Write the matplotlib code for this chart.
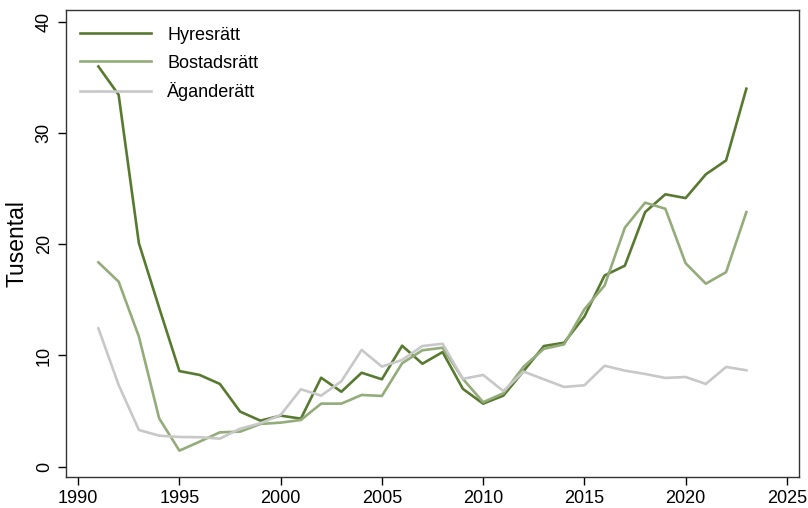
import numpy as np
import matplotlib.pyplot as plt

plt.rcParams['font.family'] = ['Liberation Sans', 'DejaVu Sans']

# år
ar = np.arange(1991, 2024)

# Tusental
hyresratt = [36.0, 33.45, 20.1, 14.3, 8.6, 8.25, 7.44, 4.95, 4.14, 4.59, 4.32,
             8.0, 6.74, 8.45, 7.86, 10.88, 9.26, 10.31, 7.0, 5.67, 6.39, 8.6,
             10.85, 11.15, 13.5, 17.2, 18.08, 22.9, 24.5, 24.16, 26.3, 27.55, 34.0]
bostadsratt = [18.38, 16.64, 11.7, 4.35, 1.44, 2.25, 3.09, 3.15, 3.84, 3.96, 4.2,
               5.67, 5.67, 6.45, 6.36, 9.3, 10.47, 10.7, 7.9, 5.8, 6.6, 9.0,
               10.6, 11.0, 14.15, 16.3, 21.5, 23.75, 23.2, 18.3, 16.46, 17.5, 22.9]
aganderatt = [12.44, 7.35, 3.3, 2.79, 2.67, 2.65, 2.52, 3.42, 3.9, 4.65, 6.96,
              6.39, 7.68, 10.5, 9.0, 9.6, 10.85, 11.06, 7.9, 8.25, 6.8, 8.55,
              7.86, 7.17, 7.32, 9.08, 8.64, 8.34, 7.98, 8.07, 7.44, 8.97, 8.67]

serier = ['Hyresrätt', 'Bostadsrätt', 'Äganderätt']
farger = ['#587a30', '#93ac7a', '#c8c8c8']

fig = plt.figure(figsize=(8.08, 5.08), dpi=100)
ax = fig.add_axes([66 / 808, 31 / 508, 733 / 808, 467 / 508])

for namn, data, farg in zip(serier, [hyresratt, bostadsratt, aganderatt], farger):
    ax.plot(ar, data, color=farg, lw=1.9, label=namn)

ax.set_xlim(1989.4, 2025.6)
ax.set_ylim(-0.93, 41.08)
ax.set_xticks(range(1990, 2026, 5))
ax.set_yticks([0, 10, 20, 30, 40])
ax.tick_params(axis='both', direction='out', length=6, width=1, labelsize=13, color='black')
for lab in ax.get_yticklabels():
    lab.set_rotation(90)
    lab.set_va('center')
ax.set_ylabel('Tusental', fontsize=16.5, labelpad=5)
for s in ax.spines.values():
    s.set_linewidth(1)
    s.set_color('#333333')

ax.legend(loc='upper left', frameon=False, fontsize=13, handlelength=3.9,
          handletextpad=0.9, labelspacing=0.6, borderaxespad=0.4,
          bbox_to_anchor=(0.0, 0.995))

fig.savefig('out.png', dpi=100)
